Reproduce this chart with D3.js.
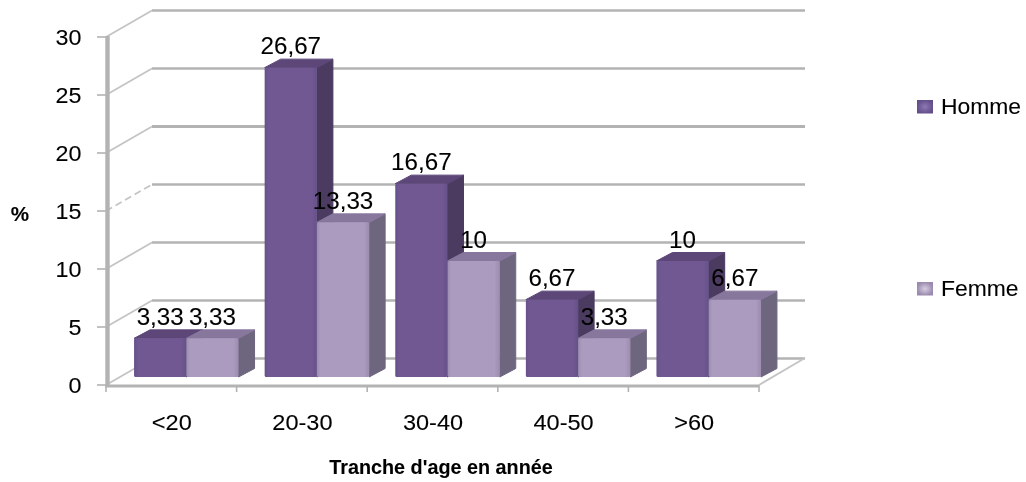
<!DOCTYPE html>
<html><head><meta charset="utf-8">
<script src="https://cdn.jsdelivr.net/npm/d3@7"></script>
<style>html,body{margin:0;padding:0;background:#fff}svg{display:block}text{font-family:"Liberation Sans",Arial,sans-serif;fill:#000;stroke:#000;stroke-width:.1px}</style>
</head><body><svg id="c" width="1026" height="482"></svg>
<script>
const categories=["<20","20-30","30-40","40-50",">60"];
const seriesNames=["Homme","Femme"];
const homme=[3.33,26.67,16.67,6.67,10];
const femme=[3.33,13.33,10,3.33,6.67];
const labelsH=["3,33","26,67","16,67","6,67","10"];
const labelsF=["3,33","13,33","10","3,33","6,67"];
const yTicks=[0,5,10,15,20,25,30];

const svg=d3.select("#c");
const x=d3.scaleBand().domain(categories).range([106,759]).paddingInner(0.2).paddingOuter(0.1);
const y=d3.scaleLinear().domain([0,30]).range([385,37]);
const sub=d3.scaleBand().domain(seriesNames).range([0,x.bandwidth()]);
const wall={dx:46,dy:-27}, barD={dx:16,dy:-8.5}, shiftX=15, shiftY=-8;
const grid="#b3b3b3";

const defs=svg.append("defs");
function grad(id,stops){const g=defs.append("linearGradient").attr("id",id);
  stops.forEach(s=>g.append("stop").attr("offset",s[0]).attr("stop-color",s[1]));}
grad("fH",[[0,"#65508a"],[.07,"#705892"],[.9,"#715993"],[1,"#65508a"]]);
grad("fF",[[0,"#9c8cb0"],[.07,"#ab9bbe"],[.9,"#ab9bbe"],[1,"#9c8cb0"]]);
const sw=defs.append("radialGradient").attr("id","sw");
sw.append("stop").attr("offset",0).attr("stop-color","#8f78b5");sw.append("stop").attr("offset",1).attr("stop-color","#64508a");
const sw2=defs.append("radialGradient").attr("id","sw2");
sw2.append("stop").attr("offset",0).attr("stop-color","#d8cfe2");sw2.append("stop").attr("offset",1).attr("stop-color","#9a8bae");
defs.append("filter").attr("id","soft").append("feGaussianBlur").attr("stdDeviation",0.4);

// walls
const G=svg.append("g").attr("filter","url(#soft)");
yTicks.forEach(t=>{
  const yy=y(t), thick=(t===20)?3.2:2.4;
  G.append("line").attr("x1",x.range()[0]+wall.dx).attr("x2",x.range()[1]+wall.dx)
    .attr("y1",yy+wall.dy+.5).attr("y2",yy+wall.dy+.5).attr("stroke",grid).attr("stroke-width",thick);
  G.append("line").attr("x1",x.range()[0]).attr("x2",x.range()[0]+wall.dx)
    .attr("y1",yy).attr("y2",yy+wall.dy+.5).attr("stroke","#c4c4c4").attr("stroke-width",1.8)
    .attr("stroke-dasharray",t===15?"7 4":null);
  G.append("line").attr("x1",97).attr("x2",107).attr("y1",yy).attr("y2",yy).attr("stroke",grid).attr("stroke-width",1.6);
});
// floor right edge + axes
G.append("line").attr("x1",759).attr("x2",759+wall.dx).attr("y1",y(0)).attr("y2",y(0)+wall.dy).attr("stroke","#c4c4c4").attr("stroke-width",1.8);
G.append("line").attr("x1",107.5).attr("x2",107.5).attr("y1",y(30)-1).attr("y2",y(0)+1).attr("stroke",grid).attr("stroke-width",4.4);
G.append("line").attr("x1",105).attr("x2",759).attr("y1",y(0)+1).attr("y2",y(0)+1).attr("stroke",grid).attr("stroke-width",3);
d3.range(6).forEach(i=>{const xx=106+i*x.step();
  G.append("line").attr("x1",xx).attr("x2",xx).attr("y1",y(0)).attr("y2",y(0)+7).attr("stroke",grid).attr("stroke-width",1.6);});

// bars
function bars(vals,name,top,side,front){
  categories.forEach((c,i)=>{
    const x0=x(c)+sub(name)+shiftX, w=sub.bandwidth(), b=y(0)+shiftY, t=y(vals[i])+shiftY;
    const g=G.append("g");
    g.append("path").attr("d",d3.line()([[x0+w,t],[x0+w+barD.dx,t+barD.dy],[x0+w+barD.dx,b+barD.dy],[x0+w,b]])+"Z").attr("fill",side).attr("stroke",side).attr("stroke-linejoin","round");
    g.append("path").attr("d",d3.line()([[x0,t],[x0+barD.dx,t+barD.dy],[x0+w+barD.dx,t+barD.dy],[x0+w,t]])+"Z").attr("fill",top).attr("stroke",top).attr("stroke-linejoin","round");
    g.append("rect").attr("x",x0).attr("y",t).attr("width",w).attr("height",b-t).attr("rx",1.5).attr("fill",front);
  });
}
bars(homme,"Homme","#5c4678","#4b3a61","url(#fH)");
bars(femme,"Femme","#87779d","#6e667f","url(#fF)");

// stretched text helper
function label(sel,px,py,txt,size,sx,anchor,bold){
  return sel.append("text").attr("transform",`translate(${px},${py}) scale(${sx},1)`)
    .attr("text-anchor",anchor||"middle").attr("font-size",size).attr("font-weight",bold?"bold":null).text(txt);
}
const T=svg.append("g").attr("filter","url(#soft)");
[[homme,labelsH,"Homme"],[femme,labelsF,"Femme"]].forEach(([vals,labs,name])=>{
  categories.forEach((c,i)=>{
    label(T,x(c)+sub(name)+shiftX+sub.bandwidth()/2,y(vals[i])+shiftY-13.5,labs[i],23.5,1.03);
  });
});
yTicks.forEach(t=>label(T,81.5,y(t)+7.5,String(t),22,1.06,"end"));
categories.forEach(c=>label(T,x(c)+x.bandwidth()/2+.5,429.5,c,22,1.07));
label(T,20,221,"%",20,1.03,"middle",true);
label(T,441,474,"Tranche d'age en année",20,.99,"middle",true);
[["Homme",114,"url(#sw)"],["Femme",296,"url(#sw2)"]].forEach(([n,yy,f])=>{
  T.append("rect").attr("x",917).attr("y",yy-14).attr("width",16).attr("height",13.5).attr("fill",f);
  label(T,941,yy,n,22,1.04,"start");
});
</script></body></html>
